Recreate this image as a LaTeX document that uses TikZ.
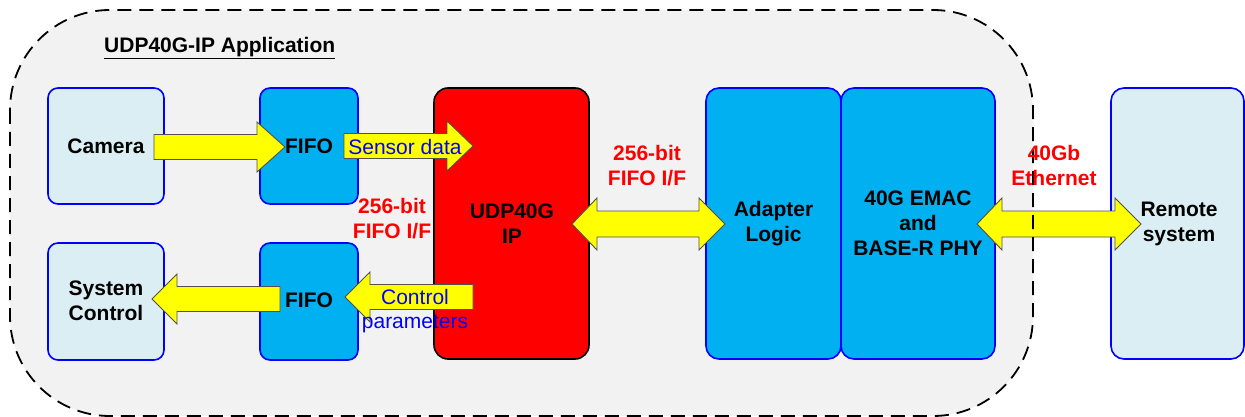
\documentclass[tikz,border=0pt]{standalone}
\usepackage{fontspec}
\setmainfont{Liberation Sans}
\definecolor{bgfill}{HTML}{F2F2F2}
\definecolor{lightbox}{HTML}{DAEEF3}
\definecolor{fifoblue}{HTML}{00B0F0}
\definecolor{ipred}{HTML}{FF0000}
\definecolor{arrowyellow}{HTML}{FFFF00}
\definecolor{arrowedge}{HTML}{505050}
\newcommand{\yblockarrow}[4]{% tail x, head base x, tip x, y
  \draw[yarrow] (#1,#4-12.5) -- (#2,#4-12.5) -- (#2,#4-25) -- (#3,#4) -- (#2,#4+25) -- (#2,#4+12.5) -- (#1,#4+12.5) -- cycle;}
\newcommand{\ydblarrow}[5]{% tip1, base1, base2, tip2, y
  \draw[yarrow] (#1,#5) -- (#2,#5-26) -- (#2,#5-13) -- (#3,#5-13) -- (#3,#5-26) -- (#4,#5) -- (#3,#5+26) -- (#3,#5+13) -- (#2,#5+13) -- (#2,#5+26) -- cycle;}
\begin{document}
\begin{tikzpicture}[x=1pt,y=-1pt,
  lbox/.style={draw=blue, line width=1.6pt, fill=lightbox, rounded corners=10pt, inner sep=0pt},
  fbox/.style={draw=blue, line width=1.6pt, fill=fifoblue, rounded corners=10pt, inner sep=0pt},
  rbox/.style={draw=black, line width=1.6pt, fill=ipred, rounded corners=14pt, inner sep=0pt},
  yarrow/.style={draw=arrowedge, line width=0.9pt, fill=arrowyellow, line join=miter},
  txt/.style={font=\fontsize{21}{25}\selectfont\bfseries, align=center, inner sep=0pt, text=black},
  redtxt/.style={txt, text=red},
  bluetxt/.style={font=\fontsize{21}{25}\selectfont, align=center, inner sep=0pt, text=blue},
  bgshape/.style={rounded corners=100pt}
]
\useasboundingbox (0,0) rectangle (1245,417);
% application area
\path[bgshape, fill=bgfill] (10,10) rectangle (1033,416);

% boxes
\node[lbox, minimum width=116pt, minimum height=116pt] (cam) at (106,146) {};
\node[lbox, minimum width=116pt, minimum height=117pt] (sys) at (106,301.5) {};
\node[fbox, minimum width=98pt, minimum height=116pt] (fifo1) at (309,146) {};
\node[fbox, minimum width=98pt, minimum height=117pt] (fifo2) at (309,301.5) {};
\node[rbox, minimum width=155pt, minimum height=271pt] (udp) at (511.5,223.5) {};
\node[fbox, rounded corners=13pt, minimum width=135pt, minimum height=271pt] (adapt) at (773.5,223.5) {};
\node[fbox, rounded corners=13pt, minimum width=154pt, minimum height=271pt] (emac) at (918,223.5) {};
\node[lbox, rounded corners=13pt, minimum width=133pt, minimum height=271pt] (remote) at (1177.5,223.5) {};

% block arrows
\yblockarrow{154}{257}{285}{147}
\yblockarrow{344}{447}{473}{146}
\yblockarrow{473}{370}{345}{297}
\yblockarrow{280}{177}{152}{299}
\ydblarrow{572}{597}{699}{725}{224}
\ydblarrow{977}{1002}{1115}{1141}{224}

% dashed outline on top
\draw[bgshape, dash pattern=on 14pt off 8pt, line width=1.8pt, black] (10,10) rectangle (1033,416);

% labels
\node[txt, anchor=west] (title) at (104,48) {\underline{UDP40G-IP Application}};
\node[txt] at (cam) {Camera};
\node[txt] at (106,300.5) {System\\Control};
\node[txt] at (fifo1) {FIFO};
\node[txt] at (309,300) {FIFO};
\node[txt] at (512,224) {UDP40G\\IP};
\node[txt] at (773.5,223.5) {Adapter\\Logic};
\node[txt] at (918,223) {40G EMAC\\and\\BASE-R PHY};
\node[txt] at (1179,223.5) {Remote\\system};
\node[redtxt] at (392,218.5) {256-bit\\FIFO I/F};
\node[redtxt] at (647,165.5) {256-bit\\FIFO I/F};
\node[redtxt] at (1054,165.5) {40Gb\\Ethernet};
\node[bluetxt] at (405,147) {Sensor data};
\node[bluetxt] at (415,297) {Control};
\node[bluetxt] at (415,324) {parameters};
\end{tikzpicture}
\end{document}
